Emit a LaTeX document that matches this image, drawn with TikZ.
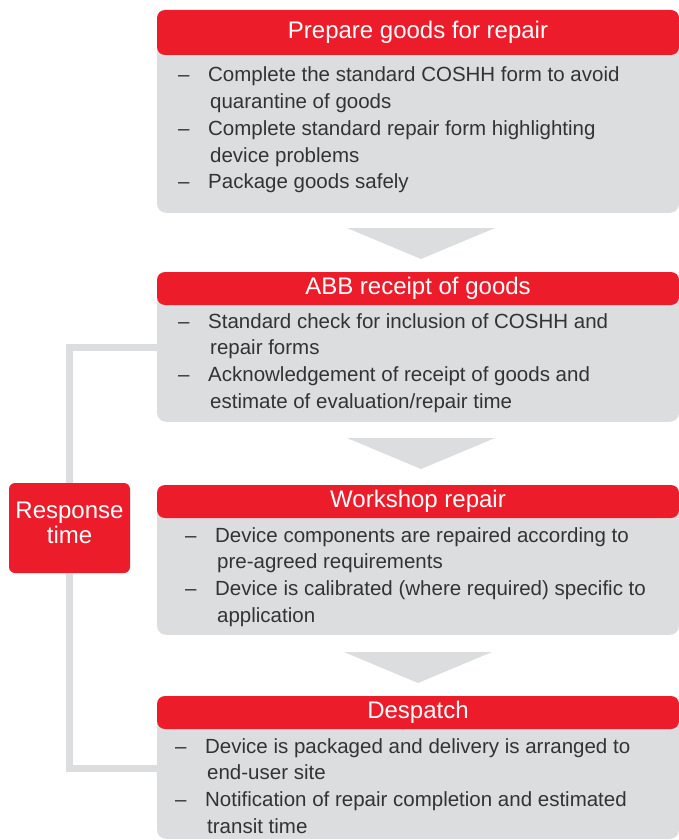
\documentclass[tikz,border=0pt]{standalone}
\usepackage{fontspec}
\setmainfont{Liberation Sans}
\usepackage{xcolor}
\usepackage{tikz}
\usetikzlibrary{calc}
\definecolor{abbred}{HTML}{ED1C2B}
\definecolor{boxgray}{HTML}{DCDDDF}
\definecolor{bodytext}{HTML}{333333}
\newcommand{\dashitem}{\makebox[30pt][l]{\textendash}}
\newcommand{\contitem}{\hspace*{32pt}}

\begin{document}
\begin{tikzpicture}[x=1pt,y=-1pt,
    headbox/.style={fill=abbred,text=white,rounded corners=8pt,minimum width=522pt,inner sep=0pt,font=\fontsize{24}{26}\selectfont},
    bodybox/.style={fill=boxgray,rounded corners=9pt,minimum width=522pt,inner sep=0pt},
    bodytxt/.style={anchor=base west,inner sep=0pt,text=bodytext,font=\fontsize{20.5}{26.7}\selectfont},
    link/.style={draw=boxgray,line width=7pt}]
  \useasboundingbox (0,0) rectangle (679,840);
  % Define coordinates
  \path
    (157,347) coordinate (in2)
    (157,768) coordinate (in4)
  ;
  % Response time
  \node[headbox,minimum width=121pt,minimum height=90pt,rounded corners=6pt] (rt) at (69.5,528) {};
  \node[text=white,inner sep=0pt,align=center,font=\fontsize{24}{25.5}\selectfont] (rtt) at (69.5,523) {Response\\time};
  \draw[link] (rt.north) |- (in2);
  \draw[link] (rt.south) |- (in4);
  % Draw boxes
  \node[bodybox,anchor=south,minimum height=181pt] (b1) at (418,213) {};
  \node[headbox,minimum height=45pt] (h1) at (418,32.5) {Prepare goods for repair};
  \node[bodybox,anchor=south,minimum height=134pt] (b2) at (418,422) {};
  \node[headbox,minimum height=33pt] (h2) at (418,288.5) {ABB receipt of goods};
  \node[bodybox,anchor=south,minimum height=134pt] (b3) at (418,635) {};
  \node[headbox,minimum height=33pt] (h3) at (418,501.5) {Workshop repair};
  \node[bodybox,anchor=south,minimum height=127pt] (b4) at (418,839) {};
  \node[headbox,minimum height=33pt] (h4) at (418,712.5) {Despatch};
  % Draw arrows
  \foreach \yt/\xc in {228/421,438/421,652/418}
    \fill[boxgray] (\xc-74,\yt) -- (\xc+74,\yt) -- (\xc,\yt+31) -- cycle;
  % Texts
  \node[bodytxt] (t1) at (178,82) {\begin{tabular}[t]{@{}l@{}}
    \dashitem Complete the standard COSHH form to avoid\\
    \contitem quarantine of goods\\
    \dashitem Complete standard repair form highlighting\\
    \contitem device problems\\
    \dashitem Package goods safely
  \end{tabular}};
  \node[bodytxt] (t2) at (178,328) {\begin{tabular}[t]{@{}l@{}}
    \dashitem Standard check for inclusion of COSHH and\\
    \contitem repair forms\\
    \dashitem Acknowledgement of receipt of goods and\\
    \contitem estimate of evaluation/repair time
  \end{tabular}};
  \node[bodytxt] (t3) at (185,542) {\begin{tabular}[t]{@{}l@{}}
    \dashitem Device components are repaired according to\\
    \contitem pre-agreed requirements\\
    \dashitem Device is calibrated (where required) specific to\\
    \contitem application
  \end{tabular}};
  \node[bodytxt] (t4) at (175,753) {\begin{tabular}[t]{@{}l@{}}
    \dashitem Device is packaged and delivery is arranged to\\
    \contitem end-user site\\
    \dashitem Notification of repair completion and estimated\\
    \contitem transit time
  \end{tabular}};
\end{tikzpicture}
\end{document}
